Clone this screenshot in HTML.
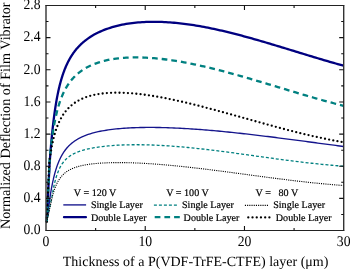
<!DOCTYPE html>
<html><head><meta charset="utf-8"><style>
html,body{margin:0;padding:0;background:#fff;}
svg{display:block;will-change:transform;}
text{font-family:"Liberation Serif",serif;fill:#000;text-rendering:geometricPrecision;}
.tl{font-size:13.7px;}
.al{font-size:14px;}
.lg{font-size:10.1px;stroke:#000;stroke-width:0.2px;}
</style></head><body>
<svg width="350" height="269" viewBox="0 0 350 269">
<polyline fill="none" stroke="#14148c" stroke-width="1.35" points="46.7,222.0 50.37,194.86 50.42,194.55 50.47,194.24 50.51,193.93 50.56,193.63 50.61,193.33 50.66,193.03 50.71,192.73 50.76,192.43 50.81,192.14 50.86,191.85 50.91,191.56 50.96,191.27 51.01,190.98 51.06,190.69 51.11,190.41 51.16,190.13 51.21,189.84 51.26,189.56 51.31,189.29 51.36,189.01 51.41,188.74 51.46,188.46 51.51,188.19 51.56,187.92 51.61,187.66 51.66,187.39 51.71,187.12 51.76,186.86 51.81,186.60 51.86,186.34 51.90,186.08 51.95,185.82 52.00,185.57 52.05,185.32 52.10,185.06 52.15,184.81 52.20,184.56 52.25,184.32 52.30,184.07 52.35,183.82 52.40,183.58 52.45,183.34 52.50,183.10 52.55,182.86 52.60,182.62 52.65,182.39 52.70,182.15 52.75,181.92 52.80,181.69 52.85,181.46 52.90,181.23 52.95,181.00 53.00,180.77 53.05,180.55 53.10,180.32 53.15,180.10 53.20,179.88 53.25,179.66 53.30,179.44 53.34,179.23 53.39,179.01 53.44,178.80 53.49,178.58 53.54,178.37 53.59,178.16 53.64,177.95 53.69,177.74 53.74,177.53 53.79,177.33 53.84,177.12 53.89,176.92 53.94,176.72 53.99,176.52 54.04,176.32 54.09,176.12 54.14,175.92 54.19,175.72 54.24,175.53 54.29,175.34 54.34,175.14 54.39,174.95 54.44,174.76 54.49,174.57 54.54,174.38 54.59,174.19 54.64,174.01 54.69,173.82 54.73,173.64 54.78,173.45 54.83,173.27 54.88,173.09 54.93,172.91 54.98,172.73 55.03,172.55 55.08,172.38 55.13,172.20 55.18,172.03 55.23,171.85 55.28,171.68 55.33,171.51 55.38,171.34 55.43,171.17 55.53,170.83 55.73,170.16 55.93,169.51 56.13,168.88 56.33,168.25 56.53,167.64 56.72,167.05 56.92,166.47 57.12,165.90 57.32,165.34 57.52,164.79 57.72,164.25 57.92,163.73 58.12,163.22 58.32,162.71 58.52,162.22 58.72,161.74 58.92,161.27 59.12,160.80 59.32,160.35 59.51,159.90 59.71,159.46 59.91,159.04 60.11,158.62 60.31,158.20 60.51,157.80 60.71,157.40 60.91,157.01 61.11,156.63 61.31,156.25 61.51,155.89 61.71,155.52 61.91,155.17 62.11,154.82 62.30,154.48 62.50,154.14 62.70,153.81 62.90,153.48 63.10,153.16 63.30,152.85 63.50,152.54 63.70,152.24 63.90,151.94 64.10,151.65 64.30,151.36 64.50,151.07 64.70,150.79 64.89,150.52 65.09,150.25 65.29,149.98 65.49,149.72 65.69,149.46 65.89,149.21 66.09,148.96 66.29,148.72 66.49,148.47 66.69,148.24 66.89,148.00 67.09,147.77 67.29,147.54 67.49,147.32 67.68,147.10 67.88,146.88 68.08,146.66 68.28,146.45 68.48,146.24 68.68,146.04 68.88,145.84 69.08,145.64 69.28,145.44 69.48,145.25 69.68,145.05 69.88,144.87 70.08,144.68 70.28,144.50 70.47,144.32 70.67,144.14 70.87,143.96 71.07,143.79 71.27,143.61 71.47,143.45 71.67,143.28 71.87,143.11 72.07,142.95 72.27,142.79 72.47,142.63 72.67,142.47 72.87,142.32 73.06,142.17 73.26,142.02 73.46,141.87 73.66,141.72 73.86,141.58 74.06,141.43 74.26,141.29 74.46,141.15 74.66,141.01 74.86,140.88 75.06,140.74 75.26,140.61 75.46,140.48 75.66,140.35 75.85,140.22 76.05,140.09 76.25,139.96 76.45,139.84 76.65,139.72 76.85,139.59 77.05,139.47 77.25,139.36 77.45,139.24 77.65,139.12 77.85,139.01 78.05,138.89 78.25,138.78 78.44,138.67 78.64,138.56 78.84,138.45 79.04,138.35 79.24,138.24 79.44,138.13 79.64,138.03 79.84,137.93 80.04,137.83 80.24,137.73 80.44,137.63 80.64,137.53 80.84,137.43 81.04,137.33 81.23,137.24 81.43,137.14 81.63,137.05 81.83,136.96 82.03,136.87 82.23,136.78 82.43,136.69 82.63,136.60 82.83,136.51 83.03,136.42 83.23,136.34 83.43,136.25 83.63,136.17 83.83,136.08 84.02,136.00 84.22,135.92 84.42,135.84 84.62,135.76 84.82,135.68 85.02,135.60 85.22,135.52 86.21,135.14 88.21,134.43 90.21,133.79 92.20,133.20 94.20,132.65 96.19,132.16 98.19,131.70 100.19,131.28 102.18,130.90 104.18,130.54 106.17,130.22 108.17,129.91 110.17,129.64 112.16,129.38 114.16,129.15 116.15,128.93 118.15,128.74 120.15,128.56 122.14,128.39 124.14,128.25 126.13,128.11 128.13,127.99 130.13,127.89 132.12,127.79 134.12,127.71 136.11,127.64 138.11,127.58 140.11,127.53 142.10,127.49 144.10,127.46 146.09,127.44 148.09,127.43 150.09,127.42 152.08,127.43 154.08,127.44 156.07,127.46 158.07,127.49 160.07,127.53 162.06,127.57 164.06,127.62 166.05,127.68 168.05,127.74 170.05,127.81 172.04,127.89 174.04,127.97 176.03,128.06 178.03,128.15 180.03,128.25 182.02,128.36 184.02,128.47 186.01,128.58 188.01,128.70 190.01,128.83 192.00,128.96 194.00,129.10 195.99,129.23 197.99,129.38 199.99,129.53 201.98,129.68 203.98,129.84 205.97,130.00 207.97,130.16 209.97,130.33 211.96,130.50 213.96,130.68 215.95,130.86 217.95,131.04 219.95,131.23 221.94,131.42 223.94,131.61 225.93,131.81 227.93,132.01 229.93,132.21 231.92,132.42 233.92,132.63 235.91,132.84 237.91,133.05 239.91,133.27 241.90,133.49 243.90,133.71 245.89,133.94 247.89,134.16 249.89,134.39 251.88,134.62 253.88,134.86 255.87,135.09 257.87,135.33 259.87,135.57 261.86,135.81 263.86,136.05 265.85,136.30 267.85,136.54 269.85,136.79 271.84,137.04 273.84,137.29 275.83,137.54 277.83,137.80 279.83,138.05 281.82,138.31 283.82,138.57 285.81,138.82 287.81,139.08 289.81,139.34 291.80,139.60 293.80,139.87 295.79,140.13 297.79,140.39 299.79,140.66 301.78,140.92 303.78,141.19 305.77,141.45 307.77,141.72 309.77,141.98 311.76,142.25 313.76,142.52 315.75,142.78 317.75,143.05 319.75,143.32 321.74,143.58 323.74,143.85 325.73,144.12 327.73,144.38 329.73,144.65 331.72,144.91 333.72,145.18 335.71,145.44 337.71,145.71 339.71,145.97 341.70,146.23 343.50,146.50"/>
<polyline fill="none" stroke="#000080" stroke-width="2.3" points="46.7,222.0 49.52,164.92 49.57,164.21 49.62,163.51 49.67,162.81 49.72,162.11 49.77,161.42 49.82,160.74 49.87,160.05 49.92,159.38 49.97,158.71 50.02,158.04 50.07,157.37 50.12,156.72 50.17,156.06 50.22,155.41 50.27,154.77 50.32,154.13 50.37,153.49 50.42,152.86 50.47,152.23 50.51,151.61 50.56,150.99 50.61,150.37 50.66,149.76 50.71,149.16 50.76,148.56 50.81,147.96 50.86,147.36 50.91,146.78 50.96,146.19 51.01,145.61 51.06,145.03 51.11,144.46 51.16,143.89 51.21,143.33 51.26,142.76 51.31,142.21 51.36,141.65 51.41,141.10 51.46,140.56 51.51,140.02 51.56,139.48 51.61,138.95 51.66,138.41 51.71,137.89 51.76,137.36 51.81,136.85 51.86,136.33 51.90,135.82 51.95,135.31 52.00,134.80 52.05,134.30 52.10,133.80 52.15,133.31 52.20,132.82 52.25,132.33 52.30,131.85 52.35,131.36 52.40,130.89 52.45,130.41 52.50,129.94 52.55,129.47 52.60,129.01 52.65,128.54 52.70,128.09 52.75,127.63 52.80,127.18 52.85,126.73 52.90,126.28 52.95,125.84 53.00,125.40 53.05,124.96 53.10,124.53 53.15,124.10 53.20,123.67 53.25,123.24 53.30,122.82 53.34,122.40 53.39,121.98 53.44,121.57 53.49,121.16 53.54,120.75 53.59,120.34 53.64,119.94 53.69,119.54 53.74,119.14 53.79,118.74 53.84,118.35 53.89,117.96 53.94,117.57 53.99,117.18 54.04,116.80 54.09,116.42 54.14,116.04 54.19,115.67 54.24,115.30 54.29,114.92 54.34,114.56 54.39,114.19 54.44,113.83 54.49,113.47 54.54,113.11 54.59,112.75 54.64,112.40 54.69,112.04 54.73,111.69 54.78,111.35 54.83,111.00 54.88,110.66 54.93,110.32 54.98,109.98 55.03,109.64 55.08,109.30 55.13,108.97 55.18,108.64 55.23,108.31 55.28,107.99 55.33,107.66 55.38,107.34 55.43,107.02 55.53,106.38 55.73,105.13 55.93,103.91 56.13,102.72 56.33,101.55 56.53,100.41 56.72,99.30 56.92,98.22 57.12,97.16 57.32,96.12 57.52,95.11 57.72,94.11 57.92,93.14 58.12,92.20 58.32,91.27 58.52,90.36 58.72,89.47 58.92,88.60 59.12,87.75 59.32,86.91 59.51,86.09 59.71,85.29 59.91,84.50 60.11,83.73 60.31,82.98 60.51,82.24 60.71,81.51 60.91,80.80 61.11,80.10 61.31,79.41 61.51,78.74 61.71,78.08 61.91,77.43 62.11,76.79 62.30,76.17 62.50,75.55 62.70,74.95 62.90,74.35 63.10,73.77 63.30,73.20 63.50,72.63 63.70,72.08 63.90,71.53 64.10,71.00 64.30,70.47 64.50,69.95 64.70,69.44 64.89,68.94 65.09,68.45 65.29,67.96 65.49,67.48 65.69,67.01 65.89,66.54 66.09,66.09 66.29,65.64 66.49,65.19 66.69,64.75 66.89,64.32 67.09,63.90 67.29,63.48 67.49,63.07 67.68,62.66 67.88,62.26 68.08,61.86 68.28,61.47 68.48,61.09 68.68,60.71 68.88,60.34 69.08,59.97 69.28,59.60 69.48,59.24 69.68,58.89 69.88,58.54 70.08,58.19 70.28,57.85 70.47,57.52 70.67,57.18 70.87,56.85 71.07,56.53 71.27,56.21 71.47,55.89 71.67,55.58 71.87,55.27 72.07,54.97 72.27,54.67 72.47,54.37 72.67,54.07 72.87,53.78 73.06,53.50 73.26,53.21 73.46,52.93 73.66,52.65 73.86,52.38 74.06,52.11 74.26,51.84 74.46,51.57 74.66,51.31 74.86,51.05 75.06,50.79 75.26,50.54 75.46,50.29 75.66,50.04 75.85,49.79 76.05,49.55 76.25,49.31 76.45,49.07 76.65,48.84 76.85,48.60 77.05,48.37 77.25,48.14 77.45,47.92 77.65,47.69 77.85,47.47 78.05,47.25 78.25,47.03 78.44,46.82 78.64,46.61 78.84,46.39 79.04,46.19 79.24,45.98 79.44,45.77 79.64,45.57 79.84,45.37 80.04,45.17 80.24,44.97 80.44,44.78 80.64,44.58 80.84,44.39 81.04,44.20 81.23,44.01 81.43,43.82 81.63,43.64 81.83,43.46 82.03,43.27 82.23,43.09 82.43,42.92 82.63,42.74 82.83,42.56 83.03,42.39 83.23,42.22 83.43,42.05 83.63,41.88 83.83,41.71 84.02,41.54 84.22,41.38 84.42,41.21 84.62,41.05 84.82,40.89 85.02,40.73 85.22,40.57 86.21,39.80 88.21,38.35 90.21,37.00 92.20,35.76 94.20,34.60 96.19,33.53 98.19,32.53 100.19,31.60 102.18,30.73 104.18,29.92 106.17,29.17 108.17,28.47 110.17,27.81 112.16,27.20 114.16,26.63 116.15,26.10 118.15,25.61 120.15,25.15 122.14,24.73 124.14,24.35 126.13,23.99 128.13,23.67 130.13,23.37 132.12,23.11 134.12,22.87 136.11,22.66 138.11,22.47 140.11,22.31 142.10,22.17 144.10,22.05 146.09,21.96 148.09,21.89 150.09,21.84 152.08,21.81 154.08,21.81 156.07,21.82 158.07,21.85 160.07,21.90 162.06,21.97 164.06,22.05 166.05,22.16 168.05,22.28 170.05,22.42 172.04,22.57 174.04,22.74 176.03,22.92 178.03,23.13 180.03,23.34 182.02,23.57 184.02,23.81 186.01,24.07 188.01,24.34 190.01,24.63 192.00,24.92 194.00,25.23 195.99,25.56 197.99,25.89 199.99,26.24 201.98,26.59 203.98,26.96 205.97,27.34 207.97,27.73 209.97,28.13 211.96,28.54 213.96,28.96 215.95,29.39 217.95,29.83 219.95,30.28 221.94,30.74 223.94,31.20 225.93,31.67 227.93,32.16 229.93,32.65 231.92,33.14 233.92,33.65 235.91,34.16 237.91,34.68 239.91,35.20 241.90,35.73 243.90,36.27 245.89,36.81 247.89,37.36 249.89,37.91 251.88,38.47 253.88,39.03 255.87,39.60 257.87,40.17 259.87,40.75 261.86,41.33 263.86,41.91 265.85,42.50 267.85,43.09 269.85,43.69 271.84,44.28 273.84,44.88 275.83,45.48 277.83,46.09 279.83,46.69 281.82,47.30 283.82,47.91 285.81,48.52 287.81,49.13 289.81,49.74 291.80,50.35 293.80,50.96 295.79,51.58 297.79,52.19 299.79,52.80 301.78,53.41 303.78,54.02 305.77,54.63 307.77,55.24 309.77,55.85 311.76,56.45 313.76,57.05 315.75,57.65 317.75,58.25 319.75,58.85 321.74,59.44 323.74,60.03 325.73,60.62 327.73,61.20 329.73,61.78 331.72,62.35 333.72,62.93 335.71,63.49 337.71,64.05 339.71,64.61 341.70,65.16 343.50,65.71"/>
<polyline fill="none" stroke="#008080" stroke-width="1.3" stroke-dasharray="3 2" points="46.7,222.0 51.86,196.92 51.90,196.63 51.95,196.34 52.00,196.05 52.05,195.76 52.10,195.48 52.15,195.19 52.20,194.91 52.25,194.63 52.30,194.35 52.35,194.07 52.40,193.79 52.45,193.51 52.50,193.24 52.55,192.97 52.60,192.70 52.65,192.43 52.70,192.16 52.75,191.90 52.80,191.63 52.85,191.37 52.90,191.11 52.95,190.85 53.00,190.59 53.05,190.34 53.10,190.08 53.15,189.83 53.20,189.58 53.25,189.33 53.30,189.08 53.34,188.84 53.39,188.59 53.44,188.35 53.49,188.11 53.54,187.87 53.59,187.63 53.64,187.39 53.69,187.16 53.74,186.92 53.79,186.69 53.84,186.46 53.89,186.23 53.94,186.01 53.99,185.78 54.04,185.56 54.09,185.34 54.14,185.11 54.19,184.90 54.24,184.68 54.29,184.46 54.34,184.25 54.39,184.03 54.44,183.82 54.49,183.61 54.54,183.40 54.59,183.19 54.64,182.99 54.69,182.78 54.73,182.58 54.78,182.38 54.83,182.18 54.88,181.98 54.93,181.78 54.98,181.59 55.03,181.39 55.08,181.20 55.13,181.01 55.18,180.82 55.23,180.63 55.28,180.44 55.33,180.25 55.38,180.07 55.43,179.89 55.53,179.52 55.73,178.81 55.93,178.11 56.13,177.44 56.33,176.78 56.53,176.15 56.72,175.53 56.92,174.93 57.12,174.35 57.32,173.78 57.52,173.23 57.72,172.69 57.92,172.17 58.12,171.66 58.32,171.17 58.52,170.69 58.72,170.22 58.92,169.77 59.12,169.32 59.32,168.89 59.51,168.47 59.71,168.07 59.91,167.67 60.11,167.28 60.31,166.90 60.51,166.54 60.71,166.18 60.91,165.83 61.11,165.49 61.31,165.16 61.51,164.83 61.71,164.51 61.91,164.21 62.11,163.90 62.30,163.61 62.50,163.32 62.70,163.04 62.90,162.77 63.10,162.50 63.30,162.24 63.50,161.98 63.70,161.73 63.90,161.48 64.10,161.24 64.30,161.01 64.50,160.78 64.70,160.56 64.89,160.34 65.09,160.12 65.29,159.91 65.49,159.70 65.69,159.50 65.89,159.30 66.09,159.11 66.29,158.92 66.49,158.73 66.69,158.55 66.89,158.37 67.09,158.19 67.29,158.02 67.49,157.85 67.68,157.68 67.88,157.52 68.08,157.36 68.28,157.20 68.48,157.05 68.68,156.89 68.88,156.74 69.08,156.60 69.28,156.45 69.48,156.31 69.68,156.17 69.88,156.03 70.08,155.90 70.28,155.77 70.47,155.63 70.67,155.51 70.87,155.38 71.07,155.26 71.27,155.13 71.47,155.01 71.67,154.89 71.87,154.78 72.07,154.66 72.27,154.55 72.47,154.44 72.67,154.33 72.87,154.22 73.06,154.11 73.26,154.01 73.46,153.90 73.66,153.80 73.86,153.70 74.06,153.60 74.26,153.50 74.46,153.41 74.66,153.31 74.86,153.22 75.06,153.12 75.26,153.03 75.46,152.94 75.66,152.85 75.85,152.76 76.05,152.68 76.25,152.59 76.45,152.51 76.65,152.42 76.85,152.34 77.05,152.26 77.25,152.18 77.45,152.10 77.65,152.02 77.85,151.94 78.05,151.87 78.25,151.79 78.44,151.72 78.64,151.64 78.84,151.57 79.04,151.50 79.24,151.43 79.44,151.35 79.64,151.29 79.84,151.22 80.04,151.15 80.24,151.08 80.44,151.01 80.64,150.95 80.84,150.88 81.04,150.82 81.23,150.75 81.43,150.69 81.63,150.63 81.83,150.57 82.03,150.51 82.23,150.45 82.43,150.39 82.63,150.33 82.83,150.27 83.03,150.21 83.23,150.15 83.43,150.10 83.63,150.04 83.83,149.98 84.02,149.93 84.22,149.87 84.42,149.82 84.62,149.77 84.82,149.71 85.02,149.66 85.22,149.61 86.21,149.36 88.21,148.89 90.21,148.46 92.20,148.07 94.20,147.71 96.19,147.38 98.19,147.08 100.19,146.80 102.18,146.55 104.18,146.31 106.17,146.10 108.17,145.91 110.17,145.73 112.16,145.57 114.16,145.43 116.15,145.30 118.15,145.18 120.15,145.08 122.14,145.00 124.14,144.92 126.13,144.86 128.13,144.81 130.13,144.77 132.12,144.74 134.12,144.73 136.11,144.72 138.11,144.73 140.11,144.74 142.10,144.76 144.10,144.80 146.09,144.84 148.09,144.89 150.09,144.95 152.08,145.02 154.08,145.10 156.07,145.19 158.07,145.28 160.07,145.38 162.06,145.49 164.06,145.61 166.05,145.73 168.05,145.86 170.05,146.00 172.04,146.14 174.04,146.29 176.03,146.45 178.03,146.61 180.03,146.78 182.02,146.95 184.02,147.13 186.01,147.32 188.01,147.51 190.01,147.70 192.00,147.90 194.00,148.11 195.99,148.32 197.99,148.53 199.99,148.75 201.98,148.98 203.98,149.20 205.97,149.43 207.97,149.67 209.97,149.91 211.96,150.15 213.96,150.39 215.95,150.64 217.95,150.89 219.95,151.14 221.94,151.40 223.94,151.66 225.93,151.92 227.93,152.18 229.93,152.45 231.92,152.72 233.92,152.98 235.91,153.26 237.91,153.53 239.91,153.80 241.90,154.07 243.90,154.35 245.89,154.63 247.89,154.90 249.89,155.18 251.88,155.46 253.88,155.74 255.87,156.02 257.87,156.29 259.87,156.57 261.86,156.85 263.86,157.13 265.85,157.40 267.85,157.68 269.85,157.95 271.84,158.23 273.84,158.50 275.83,158.77 277.83,159.04 279.83,159.31 281.82,159.58 283.82,159.84 285.81,160.11 287.81,160.37 289.81,160.62 291.80,160.88 293.80,161.13 295.79,161.38 297.79,161.63 299.79,161.87 301.78,162.11 303.78,162.35 305.77,162.59 307.77,162.82 309.77,163.04 311.76,163.26 313.76,163.48 315.75,163.70 317.75,163.91 319.75,164.11 321.74,164.31 323.74,164.51 325.73,164.70 327.73,164.88 329.73,165.07 331.72,165.24 333.72,165.41 335.71,165.57 337.71,165.73 339.71,165.88 341.70,166.03 343.50,166.17"/>
<polyline fill="none" stroke="#008080" stroke-width="2.3" stroke-dasharray="5.7 4" points="46.7,222.0 49.72,159.69 49.77,159.14 49.82,158.60 49.87,158.07 49.92,157.54 49.97,157.01 50.02,156.49 50.07,155.97 50.12,155.45 50.17,154.95 50.22,154.44 50.27,153.94 50.32,153.45 50.37,152.95 50.42,152.47 50.47,151.98 50.51,151.50 50.56,151.03 50.61,150.56 50.66,150.09 50.71,149.63 50.76,149.17 50.81,148.71 50.86,148.26 50.91,147.81 50.96,147.36 51.01,146.92 51.06,146.49 51.11,146.05 51.16,145.62 51.21,145.19 51.26,144.77 51.31,144.35 51.36,143.93 51.41,143.52 51.46,143.11 51.51,142.70 51.56,142.30 51.61,141.90 51.66,141.50 51.71,141.10 51.76,140.71 51.81,140.32 51.86,139.94 51.90,139.56 51.95,139.18 52.00,138.80 52.05,138.42 52.10,138.05 52.15,137.69 52.20,137.32 52.25,136.96 52.30,136.60 52.35,136.24 52.40,135.88 52.45,135.53 52.50,135.18 52.55,134.84 52.60,134.49 52.65,134.15 52.70,133.81 52.75,133.47 52.80,133.14 52.85,132.80 52.90,132.47 52.95,132.15 53.00,131.82 53.05,131.50 53.10,131.18 53.15,130.86 53.20,130.54 53.25,130.23 53.30,129.92 53.34,129.61 53.39,129.30 53.44,129.00 53.49,128.69 53.54,128.39 53.59,128.09 53.64,127.80 53.69,127.50 53.74,127.21 53.79,126.92 53.84,126.63 53.89,126.34 53.94,126.05 53.99,125.77 54.04,125.49 54.09,125.21 54.14,124.93 54.19,124.66 54.24,124.38 54.29,124.11 54.34,123.84 54.39,123.57 54.44,123.30 54.49,123.04 54.54,122.77 54.59,122.51 54.64,122.25 54.69,121.99 54.73,121.74 54.78,121.48 54.83,121.23 54.88,120.98 54.93,120.73 54.98,120.48 55.03,120.23 55.08,119.98 55.13,119.74 55.18,119.50 55.23,119.25 55.28,119.01 55.33,118.78 55.38,118.54 55.43,118.30 55.53,117.84 55.73,116.92 55.93,116.02 56.13,115.14 56.33,114.29 56.53,113.45 56.72,112.63 56.92,111.83 57.12,111.05 57.32,110.29 57.52,109.54 57.72,108.81 57.92,108.09 58.12,107.39 58.32,106.70 58.52,106.03 58.72,105.37 58.92,104.72 59.12,104.09 59.32,103.47 59.51,102.86 59.71,102.26 59.91,101.68 60.11,101.11 60.31,100.54 60.51,99.99 60.71,99.45 60.91,98.91 61.11,98.39 61.31,97.88 61.51,97.37 61.71,96.88 61.91,96.39 62.11,95.91 62.30,95.44 62.50,94.98 62.70,94.52 62.90,94.08 63.10,93.64 63.30,93.20 63.50,92.78 63.70,92.36 63.90,91.95 64.10,91.54 64.30,91.14 64.50,90.75 64.70,90.36 64.89,89.98 65.09,89.61 65.29,89.24 65.49,88.87 65.69,88.51 65.89,88.16 66.09,87.81 66.29,87.47 66.49,87.13 66.69,86.80 66.89,86.47 67.09,86.15 67.29,85.83 67.49,85.51 67.68,85.20 67.88,84.90 68.08,84.59 68.28,84.30 68.48,84.00 68.68,83.71 68.88,83.43 69.08,83.14 69.28,82.87 69.48,82.59 69.68,82.32 69.88,82.05 70.08,81.79 70.28,81.52 70.47,81.27 70.67,81.01 70.87,80.76 71.07,80.51 71.27,80.27 71.47,80.02 71.67,79.78 71.87,79.55 72.07,79.31 72.27,79.08 72.47,78.86 72.67,78.63 72.87,78.41 73.06,78.19 73.26,77.97 73.46,77.75 73.66,77.54 73.86,77.33 74.06,77.12 74.26,76.92 74.46,76.71 74.66,76.51 74.86,76.32 75.06,76.12 75.26,75.92 75.46,75.73 75.66,75.54 75.85,75.35 76.05,75.17 76.25,74.98 76.45,74.80 76.65,74.62 76.85,74.44 77.05,74.27 77.25,74.09 77.45,73.92 77.65,73.75 77.85,73.58 78.05,73.41 78.25,73.25 78.44,73.09 78.64,72.92 78.84,72.76 79.04,72.60 79.24,72.45 79.44,72.29 79.64,72.14 79.84,71.99 80.04,71.83 80.24,71.68 80.44,71.54 80.64,71.39 80.84,71.25 81.04,71.10 81.23,70.96 81.43,70.82 81.63,70.68 81.83,70.54 82.03,70.40 82.23,70.27 82.43,70.13 82.63,70.00 82.83,69.87 83.03,69.74 83.23,69.61 83.43,69.48 83.63,69.36 83.83,69.23 84.02,69.11 84.22,68.98 84.42,68.86 84.62,68.74 84.82,68.62 85.02,68.50 85.22,68.38 86.21,67.81 88.21,66.75 90.21,65.77 92.20,64.87 94.20,64.06 96.19,63.31 98.19,62.62 100.19,61.99 102.18,61.42 104.18,60.90 106.17,60.42 108.17,59.99 110.17,59.60 112.16,59.25 114.16,58.93 116.15,58.65 118.15,58.40 120.15,58.18 122.14,57.99 124.14,57.83 126.13,57.70 128.13,57.60 130.13,57.52 132.12,57.46 134.12,57.43 136.11,57.41 138.11,57.42 140.11,57.46 142.10,57.51 144.10,57.58 146.09,57.67 148.09,57.78 150.09,57.90 152.08,58.04 154.08,58.20 156.07,58.38 158.07,58.57 160.07,58.78 162.06,59.00 164.06,59.24 166.05,59.49 168.05,59.75 170.05,60.03 172.04,60.32 174.04,60.62 176.03,60.94 178.03,61.26 180.03,61.60 182.02,61.95 184.02,62.31 186.01,62.69 188.01,63.07 190.01,63.46 192.00,63.86 194.00,64.27 195.99,64.70 197.99,65.13 199.99,65.56 201.98,66.01 203.98,66.47 205.97,66.93 207.97,67.40 209.97,67.88 211.96,68.37 213.96,68.86 215.95,69.36 217.95,69.87 219.95,70.38 221.94,70.90 223.94,71.43 225.93,71.96 227.93,72.50 229.93,73.04 231.92,73.59 233.92,74.14 235.91,74.69 237.91,75.25 239.91,75.82 241.90,76.39 243.90,76.96 245.89,77.54 247.89,78.11 249.89,78.70 251.88,79.28 253.88,79.87 255.87,80.46 257.87,81.05 259.87,81.65 261.86,82.24 263.86,82.84 265.85,83.44 267.85,84.04 269.85,84.64 271.84,85.24 273.84,85.85 275.83,86.45 277.83,87.05 279.83,87.66 281.82,88.26 283.82,88.86 285.81,89.47 287.81,90.07 289.81,90.67 291.80,91.27 293.80,91.87 295.79,92.46 297.79,93.06 299.79,93.65 301.78,94.24 303.78,94.83 305.77,95.42 307.77,96.00 309.77,96.58 311.76,97.16 313.76,97.74 315.75,98.31 317.75,98.87 319.75,99.44 321.74,100.00 323.74,100.55 325.73,101.10 327.73,101.65 329.73,102.19 331.72,102.72 333.72,103.26 335.71,103.78 337.71,104.30 339.71,104.81 341.70,105.32 343.50,105.82"/>
<polyline fill="none" stroke="#000" stroke-width="1.1" stroke-dasharray="1.1 1.1" points="46.7,222.0 52.25,196.95 52.30,196.75 52.35,196.56 52.40,196.37 52.45,196.18 52.50,195.99 52.55,195.80 52.60,195.61 52.65,195.42 52.70,195.24 52.75,195.06 52.80,194.87 52.85,194.69 52.90,194.51 52.95,194.34 53.00,194.16 53.05,193.98 53.10,193.81 53.15,193.64 53.20,193.46 53.25,193.29 53.30,193.12 53.34,192.95 53.39,192.79 53.44,192.62 53.49,192.46 53.54,192.29 53.59,192.13 53.64,191.97 53.69,191.81 53.74,191.65 53.79,191.49 53.84,191.33 53.89,191.18 53.94,191.02 53.99,190.87 54.04,190.72 54.09,190.57 54.14,190.42 54.19,190.27 54.24,190.12 54.29,189.97 54.34,189.82 54.39,189.68 54.44,189.53 54.49,189.39 54.54,189.25 54.59,189.11 54.64,188.97 54.69,188.83 54.73,188.69 54.78,188.55 54.83,188.42 54.88,188.28 54.93,188.15 54.98,188.01 55.03,187.88 55.08,187.75 55.13,187.62 55.18,187.49 55.23,187.36 55.28,187.23 55.33,187.11 55.38,186.98 55.43,186.85 55.53,186.61 55.73,186.12 55.93,185.64 56.13,185.18 56.33,184.73 56.53,184.29 56.72,183.87 56.92,183.45 57.12,183.05 57.32,182.66 57.52,182.27 57.72,181.90 57.92,181.54 58.12,181.18 58.32,180.84 58.52,180.50 58.72,180.17 58.92,179.85 59.12,179.54 59.32,179.23 59.51,178.94 59.71,178.65 59.91,178.36 60.11,178.09 60.31,177.82 60.51,177.55 60.71,177.29 60.91,177.04 61.11,176.79 61.31,176.55 61.51,176.32 61.71,176.09 61.91,175.86 62.11,175.64 62.30,175.42 62.50,175.21 62.70,175.01 62.90,174.80 63.10,174.61 63.30,174.41 63.50,174.22 63.70,174.04 63.90,173.85 64.10,173.67 64.30,173.50 64.50,173.33 64.70,173.16 64.89,173.00 65.09,172.83 65.29,172.67 65.49,172.52 65.69,172.37 65.89,172.22 66.09,172.07 66.29,171.93 66.49,171.78 66.69,171.65 66.89,171.51 67.09,171.38 67.29,171.24 67.49,171.11 67.68,170.99 67.88,170.86 68.08,170.74 68.28,170.62 68.48,170.50 68.68,170.39 68.88,170.27 69.08,170.16 69.28,170.05 69.48,169.94 69.68,169.83 69.88,169.73 70.08,169.63 70.28,169.52 70.47,169.42 70.67,169.33 70.87,169.23 71.07,169.13 71.27,169.04 71.47,168.95 71.67,168.86 71.87,168.77 72.07,168.68 72.27,168.59 72.47,168.51 72.67,168.42 72.87,168.34 73.06,168.26 73.26,168.18 73.46,168.10 73.66,168.02 73.86,167.94 74.06,167.87 74.26,167.79 74.46,167.72 74.66,167.65 74.86,167.58 75.06,167.51 75.26,167.44 75.46,167.37 75.66,167.30 75.85,167.23 76.05,167.17 76.25,167.10 76.45,167.04 76.65,166.98 76.85,166.92 77.05,166.85 77.25,166.79 77.45,166.73 77.65,166.68 77.85,166.62 78.05,166.56 78.25,166.50 78.44,166.45 78.64,166.39 78.84,166.34 79.04,166.29 79.24,166.23 79.44,166.18 79.64,166.13 79.84,166.08 80.04,166.03 80.24,165.98 80.44,165.93 80.64,165.88 80.84,165.83 81.04,165.79 81.23,165.74 81.43,165.70 81.63,165.65 81.83,165.61 82.03,165.56 82.23,165.52 82.43,165.48 82.63,165.43 82.83,165.39 83.03,165.35 83.23,165.31 83.43,165.27 83.63,165.23 83.83,165.19 84.02,165.15 84.22,165.11 84.42,165.07 84.62,165.04 84.82,165.00 85.02,164.96 85.22,164.93 86.21,164.75 88.21,164.44 90.21,164.15 92.20,163.91 94.20,163.69 96.19,163.49 98.19,163.32 100.19,163.17 102.18,163.05 104.18,162.94 106.17,162.84 108.17,162.77 110.17,162.71 112.16,162.66 114.16,162.63 116.15,162.60 118.15,162.60 120.15,162.60 122.14,162.61 124.14,162.63 126.13,162.67 128.13,162.71 130.13,162.76 132.12,162.82 134.12,162.89 136.11,162.97 138.11,163.05 140.11,163.15 142.10,163.25 144.10,163.35 146.09,163.47 148.09,163.59 150.09,163.72 152.08,163.85 154.08,163.99 156.07,164.13 158.07,164.29 160.07,164.44 162.06,164.60 164.06,164.77 166.05,164.94 168.05,165.12 170.05,165.30 172.04,165.49 174.04,165.68 176.03,165.88 178.03,166.08 180.03,166.28 182.02,166.49 184.02,166.70 186.01,166.91 188.01,167.13 190.01,167.35 192.00,167.58 194.00,167.81 195.99,168.04 197.99,168.27 199.99,168.51 201.98,168.75 203.98,168.99 205.97,169.23 207.97,169.48 209.97,169.73 211.96,169.98 213.96,170.23 215.95,170.49 217.95,170.74 219.95,171.00 221.94,171.26 223.94,171.52 225.93,171.78 227.93,172.05 229.93,172.31 231.92,172.57 233.92,172.84 235.91,173.11 237.91,173.37 239.91,173.64 241.90,173.91 243.90,174.18 245.89,174.45 247.89,174.71 249.89,174.98 251.88,175.25 253.88,175.52 255.87,175.79 257.87,176.05 259.87,176.32 261.86,176.58 263.86,176.85 265.85,177.11 267.85,177.37 269.85,177.64 271.84,177.90 273.84,178.16 275.83,178.41 277.83,178.67 279.83,178.92 281.82,179.17 283.82,179.42 285.81,179.67 287.81,179.92 289.81,180.16 291.80,180.40 293.80,180.64 295.79,180.88 297.79,181.11 299.79,181.34 301.78,181.57 303.78,181.80 305.77,182.02 307.77,182.24 309.77,182.46 311.76,182.67 313.76,182.88 315.75,183.08 317.75,183.28 319.75,183.48 321.74,183.67 323.74,183.86 325.73,184.05 327.73,184.23 329.73,184.41 331.72,184.58 333.72,184.75 335.71,184.91 337.71,185.07 339.71,185.22 341.70,185.37 343.50,185.52"/>
<polyline fill="none" stroke="#000" stroke-width="2.3" stroke-dasharray="0 4.22" stroke-linecap="round" points="46.7,222.0 49.12,164.60 49.17,164.17 49.22,163.74 49.27,163.32 49.32,162.90 49.37,162.48 49.42,162.07 49.47,161.66 49.52,161.26 49.57,160.86 49.62,160.47 49.67,160.08 49.72,159.70 49.77,159.32 49.82,158.94 49.87,158.57 49.92,158.20 49.97,157.83 50.02,157.47 50.07,157.11 50.12,156.76 50.17,156.40 50.22,156.06 50.27,155.71 50.32,155.37 50.37,155.03 50.42,154.70 50.47,154.37 50.51,154.04 50.56,153.71 50.61,153.39 50.66,153.07 50.71,152.75 50.76,152.44 50.81,152.13 50.86,151.82 50.91,151.52 50.96,151.21 51.01,150.91 51.06,150.62 51.11,150.32 51.16,150.03 51.21,149.74 51.26,149.45 51.31,149.17 51.36,148.89 51.41,148.61 51.46,148.33 51.51,148.05 51.56,147.78 51.61,147.51 51.66,147.24 51.71,146.97 51.76,146.71 51.81,146.45 51.86,146.19 51.90,145.93 51.95,145.67 52.00,145.42 52.05,145.17 52.10,144.92 52.15,144.67 52.20,144.43 52.25,144.18 52.30,143.94 52.35,143.70 52.40,143.46 52.45,143.22 52.50,142.99 52.55,142.76 52.60,142.52 52.65,142.29 52.70,142.07 52.75,141.84 52.80,141.62 52.85,141.39 52.90,141.17 52.95,140.95 53.00,140.73 53.05,140.52 53.10,140.30 53.15,140.09 53.20,139.88 53.25,139.67 53.30,139.46 53.34,139.25 53.39,139.04 53.44,138.84 53.49,138.63 53.54,138.43 53.59,138.23 53.64,138.03 53.69,137.83 53.74,137.64 53.79,137.44 53.84,137.25 53.89,137.06 53.94,136.86 53.99,136.67 54.04,136.49 54.09,136.30 54.14,136.11 54.19,135.93 54.24,135.74 54.29,135.56 54.34,135.38 54.39,135.20 54.44,135.02 54.49,134.84 54.54,134.66 54.59,134.49 54.64,134.31 54.69,134.14 54.73,133.97 54.78,133.79 54.83,133.62 54.88,133.45 54.93,133.29 54.98,133.12 55.03,132.95 55.08,132.79 55.13,132.62 55.18,132.46 55.23,132.30 55.28,132.14 55.33,131.97 55.38,131.82 55.43,131.66 55.53,131.34 55.73,130.72 55.93,130.12 56.13,129.53 56.33,128.95 56.53,128.38 56.72,127.83 56.92,127.29 57.12,126.76 57.32,126.24 57.52,125.73 57.72,125.23 57.92,124.75 58.12,124.27 58.32,123.80 58.52,123.34 58.72,122.89 58.92,122.45 59.12,122.02 59.32,121.59 59.51,121.18 59.71,120.77 59.91,120.37 60.11,119.97 60.31,119.58 60.51,119.20 60.71,118.83 60.91,118.46 61.11,118.10 61.31,117.75 61.51,117.40 61.71,117.06 61.91,116.72 62.11,116.39 62.30,116.07 62.50,115.75 62.70,115.43 62.90,115.12 63.10,114.82 63.30,114.52 63.50,114.22 63.70,113.93 63.90,113.64 64.10,113.36 64.30,113.08 64.50,112.81 64.70,112.54 64.89,112.28 65.09,112.01 65.29,111.76 65.49,111.50 65.69,111.25 65.89,111.01 66.09,110.76 66.29,110.53 66.49,110.29 66.69,110.06 66.89,109.83 67.09,109.60 67.29,109.38 67.49,109.16 67.68,108.94 67.88,108.73 68.08,108.52 68.28,108.31 68.48,108.11 68.68,107.90 68.88,107.70 69.08,107.51 69.28,107.31 69.48,107.12 69.68,106.93 69.88,106.75 70.08,106.56 70.28,106.38 70.47,106.20 70.67,106.02 70.87,105.85 71.07,105.67 71.27,105.50 71.47,105.34 71.67,105.17 71.87,105.01 72.07,104.84 72.27,104.68 72.47,104.52 72.67,104.37 72.87,104.21 73.06,104.06 73.26,103.91 73.46,103.76 73.66,103.62 73.86,103.47 74.06,103.33 74.26,103.19 74.46,103.05 74.66,102.91 74.86,102.77 75.06,102.64 75.26,102.50 75.46,102.37 75.66,102.24 75.85,102.11 76.05,101.99 76.25,101.86 76.45,101.74 76.65,101.61 76.85,101.49 77.05,101.37 77.25,101.25 77.45,101.14 77.65,101.02 77.85,100.91 78.05,100.79 78.25,100.68 78.44,100.57 78.64,100.46 78.84,100.35 79.04,100.25 79.24,100.14 79.44,100.04 79.64,99.94 79.84,99.83 80.04,99.73 80.24,99.63 80.44,99.53 80.64,99.44 80.84,99.34 81.04,99.25 81.23,99.15 81.43,99.06 81.63,98.97 81.83,98.88 82.03,98.79 82.23,98.70 82.43,98.61 82.63,98.52 82.83,98.44 83.03,98.35 83.23,98.27 83.43,98.19 83.63,98.10 83.83,98.02 84.02,97.94 84.22,97.86 84.42,97.79 84.62,97.71 84.82,97.63 85.02,97.56 85.22,97.48 86.21,97.12 88.21,96.46 90.21,95.87 92.20,95.34 94.20,94.88 96.19,94.47 98.19,94.12 100.19,93.81 102.18,93.54 104.18,93.32 106.17,93.14 108.17,92.99 110.17,92.87 112.16,92.79 114.16,92.74 116.15,92.71 118.15,92.71 120.15,92.74 122.14,92.79 124.14,92.87 126.13,92.96 128.13,93.08 130.13,93.22 132.12,93.37 134.12,93.55 136.11,93.74 138.11,93.95 140.11,94.17 142.10,94.41 144.10,94.67 146.09,94.94 148.09,95.22 150.09,95.52 152.08,95.83 154.08,96.15 156.07,96.48 158.07,96.83 160.07,97.18 162.06,97.55 164.06,97.93 166.05,98.31 168.05,98.71 170.05,99.11 172.04,99.53 174.04,99.95 176.03,100.38 178.03,100.82 180.03,101.26 182.02,101.72 184.02,102.18 186.01,102.64 188.01,103.12 190.01,103.60 192.00,104.08 194.00,104.57 195.99,105.07 197.99,105.57 199.99,106.08 201.98,106.59 203.98,107.11 205.97,107.62 207.97,108.15 209.97,108.68 211.96,109.21 213.96,109.74 215.95,110.28 217.95,110.82 219.95,111.36 221.94,111.91 223.94,112.45 225.93,113.00 227.93,113.56 229.93,114.11 231.92,114.66 233.92,115.22 235.91,115.78 237.91,116.33 239.91,116.89 241.90,117.45 243.90,118.01 245.89,118.57 247.89,119.13 249.89,119.68 251.88,120.24 253.88,120.80 255.87,121.36 257.87,121.91 259.87,122.46 261.86,123.02 263.86,123.57 265.85,124.12 267.85,124.66 269.85,125.21 271.84,125.75 273.84,126.29 275.83,126.83 277.83,127.37 279.83,127.90 281.82,128.43 283.82,128.95 285.81,129.47 287.81,129.99 289.81,130.50 291.80,131.01 293.80,131.52 295.79,132.02 297.79,132.52 299.79,133.01 301.78,133.49 303.78,133.98 305.77,134.45 307.77,134.92 309.77,135.39 311.76,135.85 313.76,136.30 315.75,136.75 317.75,137.19 319.75,137.63 321.74,138.05 323.74,138.47 325.73,138.89 327.73,139.30 329.73,139.70 331.72,140.09 333.72,140.47 335.71,140.85 337.71,141.22 339.71,141.58 341.70,141.93 343.50,142.27"/>
<path d="M46.0 5.5V230.55M343.7 5.5V230.55" stroke="#333" stroke-width="1.4" fill="none"/>
<path d="M45.3 5.5H344.4M45.3 230.55H344.4" stroke="#222" stroke-width="1.1" fill="none"/>
<path d="M46.0 214.48h2.5M343.7 214.48h-2.5M46.0 198.40h4.5M343.7 198.40h-4.5M46.0 182.32h2.5M343.7 182.32h-2.5M46.0 166.25h4.5M343.7 166.25h-4.5M46.0 150.18h2.5M343.7 150.18h-2.5M46.0 134.10h4.5M343.7 134.10h-4.5M46.0 118.02h2.5M343.7 118.02h-2.5M46.0 101.95h4.5M343.7 101.95h-4.5M46.0 85.88h2.5M343.7 85.88h-2.5M46.0 69.80h4.5M343.7 69.80h-4.5M46.0 53.72h2.5M343.7 53.72h-2.5M46.0 37.65h4.5M343.7 37.65h-4.5M46.0 21.57h2.5M343.7 21.57h-2.5M95.62 230.55v-2.5M95.62 5.5v2.5M145.23 230.55v-4.5M145.23 5.5v4.5M194.85 230.55v-2.5M194.85 5.5v2.5M244.47 230.55v-4.5M244.47 5.5v4.5M294.08 230.55v-2.5M294.08 5.5v2.5" stroke="#111" stroke-width="1.1" fill="none"/>
<text transform="translate(40.6,234.35) scale(1,1.07)" text-anchor="end" class="tl">0.0</text>
<text transform="translate(40.6,202.20) scale(1,1.07)" text-anchor="end" class="tl">0.4</text>
<text transform="translate(40.6,170.05) scale(1,1.07)" text-anchor="end" class="tl">0.8</text>
<text transform="translate(40.6,137.90) scale(1,1.07)" text-anchor="end" class="tl">1.2</text>
<text transform="translate(40.6,105.75) scale(1,1.07)" text-anchor="end" class="tl">1.6</text>
<text transform="translate(40.6,73.60) scale(1,1.07)" text-anchor="end" class="tl">2.0</text>
<text transform="translate(40.6,41.45) scale(1,1.07)" text-anchor="end" class="tl">2.4</text>
<text transform="translate(40.6,9.30) scale(1,1.07)" text-anchor="end" class="tl">2.8</text>
<text transform="translate(46.00,246.2) scale(1,1.07)" text-anchor="middle" class="tl">0</text>
<text transform="translate(145.23,246.2) scale(1,1.07)" text-anchor="middle" class="tl">10</text>
<text transform="translate(244.47,246.2) scale(1,1.07)" text-anchor="middle" class="tl">20</text>
<text transform="translate(343.70,246.2) scale(1,1.07)" text-anchor="middle" class="tl">30</text>
<text x="195.6" y="266.2" text-anchor="middle" class="al">Thickness of a P(VDF-TrFE-CTFE) layer (μm)</text>
<text transform="translate(10.1,115.8) rotate(-90)" text-anchor="middle" class="al" style="font-size:14.2px">Normalized Deflection of Film Vibrator</text>
<text x="73.8" y="196" class="lg">V = 120 V</text>
<text x="166.2" y="196" class="lg">V = 100 V</text>
<text x="255.6" y="196" class="lg">V =   80 V</text>
<line x1="63.3" y1="204.9" x2="86.1" y2="204.9" stroke="#14148c" stroke-width="1.35"/>
<line x1="64" y1="217.2" x2="85.9" y2="217.2" stroke="#000080" stroke-width="2.3" stroke-linecap="round"/>
<line x1="153.9" y1="205.2" x2="177.5" y2="205.2" stroke="#008080" stroke-width="1.3" stroke-dasharray="3 2"/>
<line x1="154.7" y1="217.2" x2="180" y2="217.2" stroke="#008080" stroke-width="2.3" stroke-dasharray="5.7 4"/>
<line x1="244.9" y1="205.4" x2="269" y2="205.4" stroke="#000" stroke-width="1.1" stroke-dasharray="1.1 1.1"/>
<line x1="248.3" y1="217.4" x2="269.5" y2="217.4" stroke="#000" stroke-width="2.3" stroke-dasharray="0 4.22" stroke-linecap="round"/>
<text x="90.9" y="208" class="lg">Single Layer</text>
<text x="90.9" y="220.9" class="lg">Double Layer</text>
<text x="182" y="208" class="lg">Single Layer</text>
<text x="183.6" y="220.9" class="lg">Double Layer</text>
<text x="273.2" y="208" class="lg">Single Layer</text>
<text x="275.8" y="220.9" class="lg">Double Layer</text>
</svg>
</body></html>
